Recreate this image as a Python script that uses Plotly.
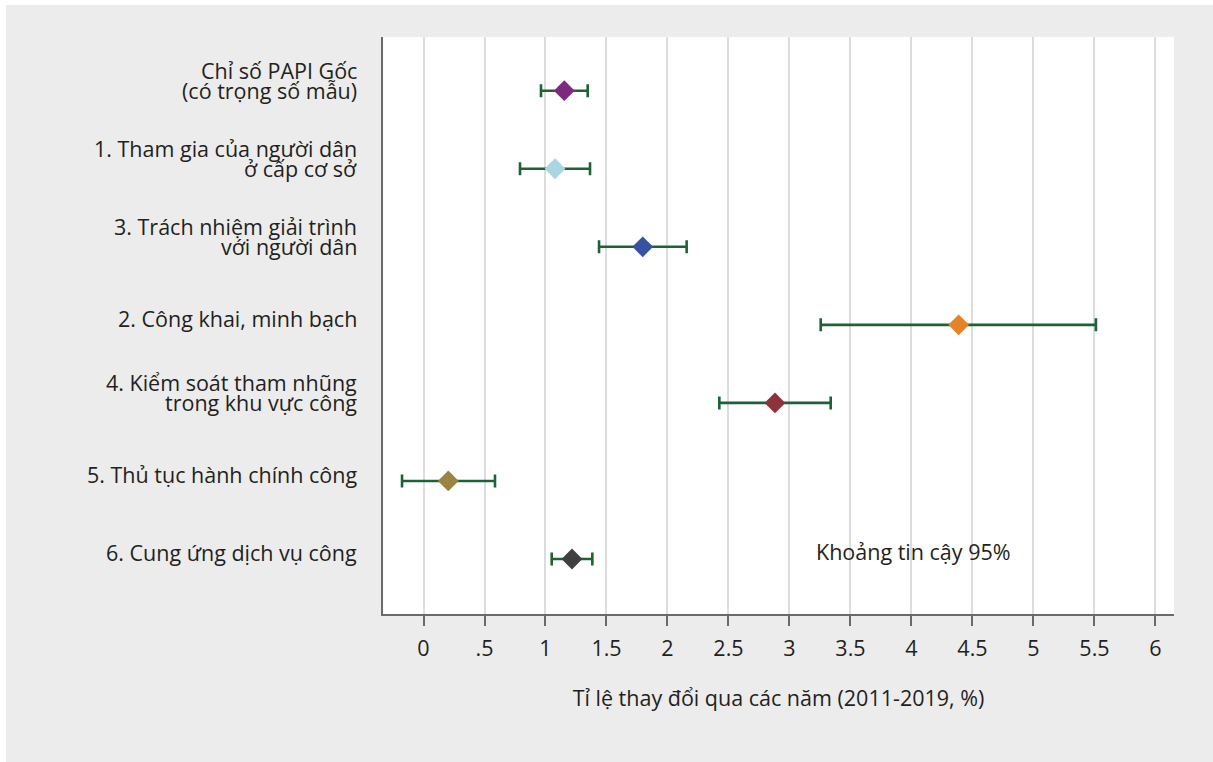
import plotly.graph_objects as go

categories = [
    "Chỉ số PAPI Gốc\n(có trọng số mẫu)",
    "1. Tham gia của người dân\nở cấp cơ sở",
    "3. Trách nhiệm giải trình\nvới người dân",
    "2. Công khai, minh bạch",
    "4. Kiểm soát tham nhũng\ntrong khu vực công",
    "5. Thủ tục hành chính công",
    "6. Cung ứng dịch vụ công",
]
estimate = [1.154, 1.078, 1.797, 4.387, 2.881, 0.203, 1.217]
ci_low = [0.963, 0.791, 1.439, 3.256, 2.425, -0.176, 1.051]
ci_high = [1.346, 1.365, 2.157, 5.512, 3.338, 0.586, 1.384]
colors = ["#7d2a7e", "#aad6e3", "#3852a3", "#e6822a", "#8f323b", "#9a8443", "#3f3f3f"]
tick_vals = [0, 0.5, 1, 1.5, 2, 2.5, 3, 3.5, 4, 4.5, 5, 5.5, 6]
tick_text = ["0", ".5", "1", "1.5", "2", "2.5", "3", "3.5", "4", "4.5", "5", "5.5", "6"]
x_title = "Tỉ lệ thay đổi qua các năm (2011-2019, %)"
note_text = "Khoảng tin cậy 95%"

FONT = "Open Sans"
FS = 21.5
TXT = "#231f20"
n = len(categories)
ypos = [n - i for i in range(n)]

fig = go.Figure()
for i in range(n):
    fig.add_trace(go.Scatter(
        x=[estimate[i]], y=[ypos[i]], mode="markers",
        marker=dict(symbol="diamond", size=16, color=colors[i], line=dict(width=0)),
        error_x=dict(type="data", symmetric=False,
                     array=[ci_high[i] - estimate[i]],
                     arrayminus=[estimate[i] - ci_low[i]],
                     color="#1d6236", thickness=2.6, width=6.5),
        showlegend=False, hoverinfo="skip",
    ))

annotations = []
for i, lab in enumerate(categories):
    lines = lab.split("\n")
    if len(lines) == 1:
        shifts = [6.5]
    else:
        shifts = [20.5, 0.0]
    for ln, sh in zip(lines, shifts):
        annotations.append(dict(
            text=ln, xref="paper", yref="y", x=0, y=ypos[i], xanchor="right",
            yanchor="middle", xshift=-24, yshift=sh, showarrow=False,
            font=dict(family=FONT, size=FS, color=TXT),
        ))
annotations.append(dict(
    text=note_text, xref="x", yref="y", x=3.2, y=ypos[-1], xanchor="left",
    yanchor="middle", yshift=7, showarrow=False,
    font=dict(family=FONT, size=FS, color=TXT),
))

L, R, T, B = 383, 39, 37, 148
W, H = 1213 - L - R, 762 - T - B
shapes = [
    dict(type="rect", xref="paper", yref="paper", layer="below",
         x0=-L / W, x1=(6 - L) / W, y0=-B / H, y1=(762 - B) / H,
         fillcolor="white", line=dict(width=0)),
    dict(type="rect", xref="paper", yref="paper", layer="below",
         x0=-L / W, x1=(1213 - L) / W, y0=(762 - B - 5) / H, y1=(762 - B) / H,
         fillcolor="white", line=dict(width=0)),
]

fig.update_layout(
    width=1213, height=762,
    margin=dict(l=L, r=R, t=T, b=B),
    paper_bgcolor="#ececec", plot_bgcolor="white",
    font=dict(family=FONT, size=FS, color=TXT),
    annotations=annotations, shapes=shapes,
    xaxis=dict(
        range=[-0.332, 6.152], tickvals=tick_vals, ticktext=tick_text,
        showgrid=True, gridcolor="#dcdcdc", gridwidth=2,
        showline=True, linecolor="#6a6a6a", linewidth=2,
        ticks="outside", ticklen=10, tickwidth=2, tickcolor="#6a6a6a",
        tickfont=dict(family=FONT, size=FS, color=TXT),
        ticklabelstandoff=4,
        zeroline=False,
        title=dict(text=x_title, standoff=30,
                   font=dict(family=FONT, size=FS, color=TXT)),
    ),
    yaxis=dict(
        range=[0.295, 7.688], showticklabels=False, showgrid=False,
        showline=True, linecolor="#6a6a6a", linewidth=2, zeroline=False,
        ticks="",
    ),
)

fig.write_html("out.html", config={"displayModeBar": False},
               post_script="document.body.style.margin='0';")
